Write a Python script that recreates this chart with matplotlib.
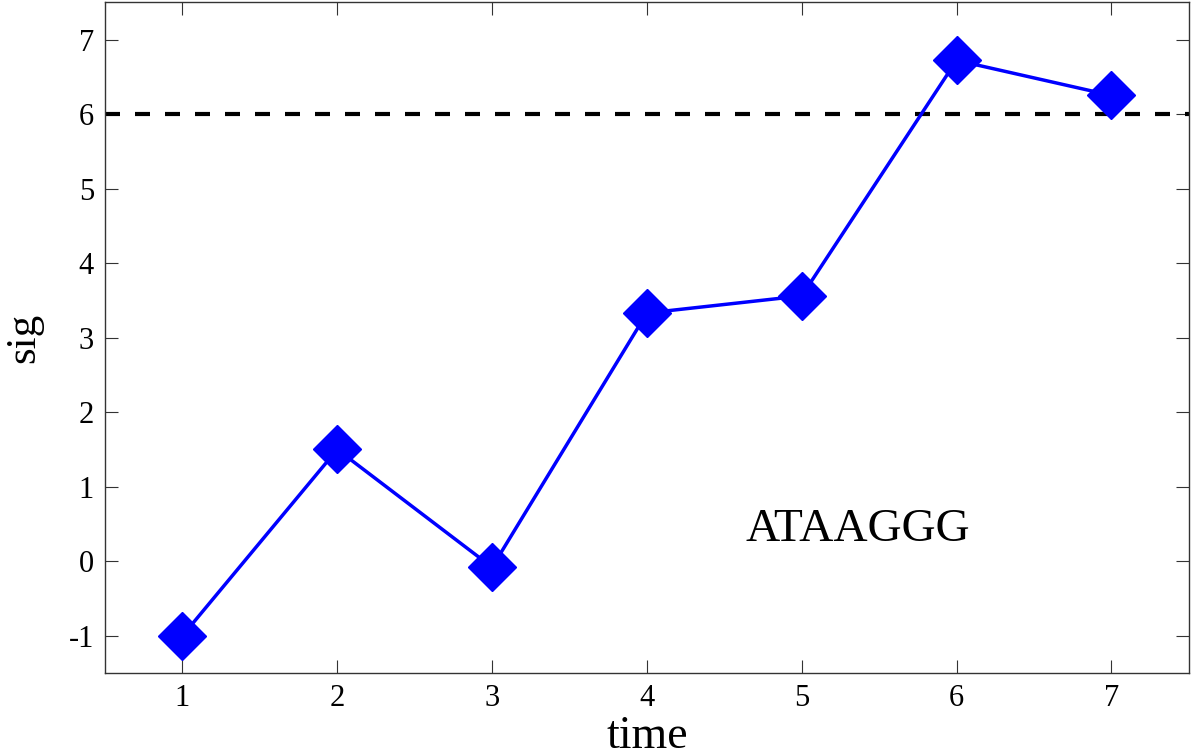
import matplotlib
matplotlib.use('Agg')
import matplotlib.pyplot as plt

# values
times = [1, 2, 3, 4, 5, 6, 7]
sig = [-1.0, 1.5, -0.08, 3.33, 3.56, 6.72, 6.25]
threshold = 6
label_text = 'ATAAGGG'
label_pos = (5.36, 0.42)

plt.rcParams['font.family'] = ['Liberation Serif', 'DejaVu Serif']
plt.rcParams['axes.unicode_minus'] = False

fig = plt.figure(figsize=(11.96, 7.52), dpi=100)
ax = fig.add_axes([0.0878, 0.105, 0.9062, 0.892])

ax.axhline(threshold, color='black', linewidth=3, dashes=(3.6, 3.6))
ax.plot(times, sig, '-', color='#0000ff', linewidth=2.5,
        marker='D', markersize=24, markerfacecolor='#0000ff',
        markeredgecolor='#0000ff', markeredgewidth=1)

ax.text(label_pos[0], label_pos[1], label_text, fontsize=34,
        ha='center', va='center')

ax.set_xlim(0.5, 7.5)
ax.set_ylim(-1.5, 7.5)
ax.set_xticks(times)
ax.set_yticks(range(-1, 8))
ax.tick_params(direction='in', length=9.5, width=0.8, labelsize=22,
               top=True, right=True, color='#333333', pad=8)
for s in ax.spines.values():
    s.set_linewidth(1.0)
    s.set_color('#333333')

ax.set_xlabel('time', fontsize=33, labelpad=2)
ax.set_ylabel('sig', fontsize=31, labelpad=18)

fig.savefig('out.png', dpi=100)
